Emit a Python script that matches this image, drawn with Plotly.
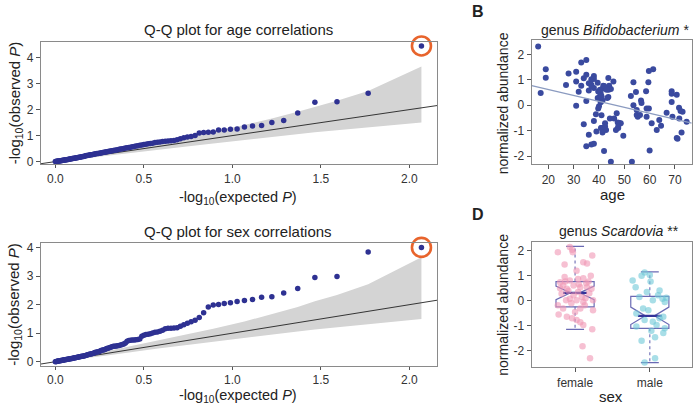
import numpy as np
import plotly.graph_objects as go

# ---------------- data ----------------
# Q-Q plots: observed -log10(P), sorted from the strongest association downwards (117 tests)
obs_age = [4.45, 2.63, 2.30, 2.28, 1.87, 1.58, 1.50, 1.39, 1.37, 1.33,
           1.25, 1.24, 1.22, 1.22, 1.14, 1.13, 1.12, 1.10, 1.00, 0.97,
           0.95, 0.92, 0.88, 0.84, 0.81, 0.80, 0.79, 0.78, 0.77, 0.75,
           0.74, 0.73, 0.71, 0.70, 0.69, 0.67, 0.66, 0.64, 0.63, 0.61,
           0.60, 0.58, 0.57, 0.55, 0.54, 0.53, 0.52, 0.50, 0.49, 0.48,
           0.47, 0.46, 0.45, 0.44, 0.43, 0.42, 0.41, 0.40, 0.39, 0.38,
           0.37, 0.36, 0.35, 0.34, 0.33, 0.32, 0.31, 0.31, 0.30, 0.29,
           0.28, 0.27, 0.265, 0.26, 0.25, 0.24, 0.235, 0.23, 0.22, 0.21,
           0.20, 0.195, 0.19, 0.18, 0.17, 0.165, 0.16, 0.15, 0.145, 0.14,
           0.13, 0.125, 0.12, 0.115, 0.11, 0.10, 0.095, 0.09, 0.085, 0.08,
           0.075, 0.07, 0.065, 0.06, 0.055, 0.05, 0.045, 0.04, 0.035, 0.03,
           0.027, 0.022, 0.018, 0.013, 0.009, 0.005, 0.002]
obs_sex = [4.01, 3.85, 2.99, 2.95, 2.57, 2.41, 2.28, 2.26, 2.18, 2.15,
           2.11, 2.07, 2.04, 2.01, 1.99, 1.92, 1.72, 1.55, 1.45, 1.40,
           1.35, 1.30, 1.24, 1.19, 1.18, 1.17, 1.17, 1.16, 1.10, 1.07,
           1.04, 1.03, 1.01, 0.98, 0.96, 0.95, 0.93, 0.89, 0.80, 0.78,
           0.77, 0.76, 0.76, 0.75, 0.74, 0.72, 0.66, 0.62, 0.60, 0.59,
           0.57, 0.56, 0.55, 0.54, 0.54, 0.52, 0.51, 0.49, 0.47, 0.46,
           0.44, 0.42, 0.41, 0.40, 0.38, 0.36, 0.35, 0.34, 0.33, 0.32,
           0.30, 0.29, 0.28, 0.27, 0.26, 0.25, 0.24, 0.23, 0.22, 0.21,
           0.20, 0.195, 0.19, 0.18, 0.175, 0.17, 0.16, 0.155, 0.15, 0.14,
           0.135, 0.13, 0.12, 0.115, 0.11, 0.105, 0.10, 0.095, 0.09, 0.085,
           0.08, 0.075, 0.07, 0.065, 0.06, 0.055, 0.05, 0.045, 0.04, 0.035,
           0.03, 0.025, 0.02, 0.015, 0.01, 0.005, 0.002]

# 95% confidence band
band_x = [2.068, 1.767, 1.591, 1.466, 1.369, 1.223, 1.068, 0.892, 0.767, 0.591,
          0.466, 0.369, 0.291, 0.224, 0.166, 0.114, 0.068, 0.027, 0.0]
band_lo = [1.50, 1.32, 1.21, 1.13, 1.06, 0.95, 0.84, 0.70, 0.60, 0.475,
           0.37, 0.287, 0.22, 0.164, 0.115, 0.073, 0.037, 0.009, 0.0]
band_hi = [3.66, 2.72, 2.34, 2.12, 1.92, 1.66, 1.41, 1.16, 0.99, 0.75,
           0.59, 0.47, 0.375, 0.294, 0.223, 0.161, 0.10, 0.05, 0.014]

# Panel B: Bifidobacterium vs age
age = [16, 17, 19, 19, 27, 28, 31, 31, 31, 32, 33, 35, 33, 34, 35, 35, 34, 36, 36, 37,
       38, 38, 37, 38, 35, 36, 37, 38, 38, 39.5, 39.5, 39.7, 40, 40.4, 40.7, 41.4, 41.4, 41.7,
       41, 39, 41, 42, 42.4, 42, 43.7, 43.8, 43.7, 44, 42.8, 44.3, 44.7, 46, 45.7, 46.7, 47,
       47.6, 48, 48.6, 49.6, 44.7, 52.6, 53, 53.6, 53.6, 54.6, 54.9, 54.9, 55.3, 56.2, 56.6,
       56.8, 58.6, 58.8, 58.8, 59.5, 59.7, 59.7, 60, 61.4, 60.8, 62.8, 63.8, 64.5, 66.7,
       68.7, 68.7, 68.7, 69, 70.7, 70.7, 71, 71.6, 71.7, 72.2, 72.6, 73, 74.6,
       39.7, 40.4, 41, 38.8, 42, 43, 43.3, 47.4, 47.6, 40.8, 42.4, 41.4, 37.1, 40.7]
bifido = [2.31, 0.48, 1.42, 1.08, 0.80, 1.25, 1.32, 0.93, -0.02, 0.53, 1.68, 1.78, 0.77, 1.06,
          1.20, 0.17, -0.75, 0.86, 0.58, 1.02, 1.15, 1.03, 0.81, 0.68, -1.61, -1.16, -1.55,
          -1.52, -0.62, 0.88, 0.28, -0.13, -0.04, 0.35, 0.45, 0.65, 0.19, 0.77, -0.39, -1.03,
          -0.90, -0.90, -0.71, -1.80, 1.07, 0.61, 0.32, 0.77, -0.97, -0.52, -2.22, -0.52, 0.93,
          -0.97, -0.32, -0.90, -0.70, -0.71, -1.20, 0.64, 0.36, -2.22, 0.90, 0.00, 0.52, -0.19,
          -0.38, -0.45, -0.38, 0.19, 0.09, 0.55, -0.13, -0.45, 0.90, 1.35, -0.13, -1.78, 1.42,
          -0.71, -0.97, -0.58, -0.81, -0.30, 0.55, 0.45, 0.13, -0.45, 0.41, -1.29, -1.32, -0.10,
          -0.52, -0.23, -1.07, -0.26, -0.65,
          0.54, 0.61, 0.35, -0.36, 0.76, 0.61, 0.28, -0.68, -0.84, -0.90, -0.84, -1.07, 0.74, 0.12]
fit_intercept = 1.084
fit_slope = -0.0234

# Panel D: Scardovia by sex (jittered positions; 1 = female, 2 = male)
sex_labels = ["female", "male"]
fem_pos = [0.77, 0.93, 0.96, 0.97, 1.23, 0.86, 1.11, 1.16, 1.02, 0.80, 0.87, 0.93, 1.04, 1.11,
           1.18, 0.98, 0.89, 1.07, 1.16, 1.22, 0.82, 0.98, 1.09, 0.88, 1.11, 1.24, 0.77, 1.07,
           1.24, 0.78, 0.89, 0.96, 1.02, 1.07, 1.11, 1.23, 1.10, 1.20, 0.84, 0.93, 1.02, 1.13,
           1.04, 0.84, 1.19, 0.91, 1.05, 1.14, 0.80, 1.00, 1.15, 0.95, 1.21, 0.86]
fem_val = [1.95, 2.16, 2.05, 1.95, 1.82, 1.46, 1.55, 1.50, 1.20, 0.74, 0.77, 0.81, 0.87, 0.90,
           0.77, 0.61, 0.48, 0.54, 0.54, 0.48, 0.28, 0.22, 0.15, 0.02, -0.05, 0.02, -0.18, -0.31,
           -0.38, -0.55, -0.64, -0.70, -0.77, -0.86, -0.97, -1.14, -1.82, -2.30, -0.31, 0.08,
           0.02, -0.18, 0.35, 0.61, 0.30, 0.40, 0.66, 0.10, 0.50, -0.45, 0.70, -0.10, 1.00, 0.95]
male_pos = [1.77, 1.81, 1.89, 1.93, 2.00, 2.01, 2.13, 1.96, 2.11, 2.04, 2.17, 2.20, 1.91, 1.98,
            1.82, 2.18, 1.93, 2.04, 2.09, 2.20, 2.18, 2.07, 1.82, 1.89, 2.07, 1.93, 2.13, 2.22,
            1.86, 2.02]
male_val = [0.81, 0.54, 1.00, 1.13, 1.03, 0.77, 0.41, 0.35, 0.22, 0.02, 0.08, -0.05, -0.31,
            -0.38, -0.51, -0.64, -0.77, -0.84, -0.97, -1.10, -1.29, -1.46, -1.03, -1.60, -2.30,
            -2.47, -0.70, 0.12, 0.15, -1.20]
# box statistics: q1, median, q3, lower whisker, upper whisker, notch half-span
box_q1 = [-0.24, -1.10]
box_med = [0.32, -0.60]
box_q3 = [0.77, 0.18]
box_lo = [-1.14, -2.47]
box_hi = [2.18, 1.16]
box_notch = [0.27, 0.35]

# ---------------- figure ----------------
W, H = 698, 410
FONT = "Liberation Sans, Arial, Helvetica, sans-serif"
QQ_COL = "#2e3192"
BAND_COL = "#d4d4d4"
ORANGE = "#e8642c"
BOXLINE = "#6a6ab4"

n = len(obs_age)
expected = -np.log10(np.arange(1, n + 1) / n)


def px_x(p):
    return p / W


def px_y(p):
    return 1 - p / H


fig = go.Figure()

qq_sets = [(obs_age, "x", "y"), (obs_sex, "x2", "y2")]
for obs, xa, ya in qq_sets:
    fig.add_trace(go.Scatter(
        x=band_x + band_x[::-1], y=band_hi + band_lo[::-1], fill="toself",
        fillcolor=BAND_COL, line=dict(width=0), mode="lines", hoverinfo="skip",
        xaxis=xa, yaxis=ya, showlegend=False))
    fig.add_trace(go.Scatter(
        x=[-0.1, 2.2], y=[-0.1, 2.2], mode="lines",
        line=dict(color="#222222", width=0.9), xaxis=xa, yaxis=ya, showlegend=False))
    fig.add_trace(go.Scatter(
        x=expected, y=obs, mode="markers",
        marker=dict(color=QQ_COL, size=5.5, line=dict(width=0)),
        xaxis=xa, yaxis=ya, showlegend=False))
    fig.add_trace(go.Scatter(
        x=[expected[0]], y=[obs[0]], mode="markers", cliponaxis=False,
        marker=dict(symbol="circle-open", size=19, color=ORANGE, line=dict(width=2.6, color=ORANGE)),
        xaxis=xa, yaxis=ya, showlegend=False))

# Panel B
fig.add_trace(go.Scatter(
    x=age, y=bifido, mode="markers",
    marker=dict(color="#3a4a9f", size=6, line=dict(width=0)),
    xaxis="x3", yaxis="y3", showlegend=False))
fx = np.array([13.45, 76.6])
fig.add_trace(go.Scatter(
    x=fx, y=fit_intercept + fit_slope * fx, mode="lines",
    line=dict(color="#8b9bc0", width=1.3), xaxis="x3", yaxis="y3", showlegend=False))

# Panel D boxes
for k in range(2):
    pos = k + 1
    fig.add_trace(go.Box(
        x=[pos], q1=[box_q1[k]], median=[box_med[k]], q3=[box_q3[k]],
        lowerfence=[box_q1[k]], upperfence=[box_q3[k]], notched=True,
        notchspan=[box_notch[k]], notchwidth=0.38, width=0.51,
        fillcolor="rgba(255,255,255,0)", line=dict(color=BOXLINE, width=1.2),
        boxpoints=False, hoverinfo="skip", xaxis="x4", yaxis="y4", showlegend=False))
    # dashed whiskers
    fig.add_trace(go.Scatter(
        x=[pos, pos], y=[box_q3[k], box_hi[k]], mode="lines",
        line=dict(color=BOXLINE, width=1.1, dash="dot"), xaxis="x4", yaxis="y4", showlegend=False))
    fig.add_trace(go.Scatter(
        x=[pos, pos], y=[box_q1[k], box_lo[k]], mode="lines",
        line=dict(color=BOXLINE, width=1.1, dash="dot"), xaxis="x4", yaxis="y4", showlegend=False))
    # caps
    for v in (box_hi[k], box_lo[k]):
        fig.add_trace(go.Scatter(
            x=[pos - 0.12, pos + 0.12], y=[v, v], mode="lines",
            line=dict(color=BOXLINE, width=1.2), xaxis="x4", yaxis="y4", showlegend=False))
    # thick median
    fig.add_trace(go.Scatter(
        x=[pos - 0.16, pos + 0.16], y=[box_med[k], box_med[k]], mode="lines",
        line=dict(color="#33339a", width=2.4), xaxis="x4", yaxis="y4", showlegend=False))

fig.add_trace(go.Scatter(
    x=fem_pos, y=fem_val, mode="markers",
    marker=dict(color="rgba(240,150,180,0.6)", size=6.5, line=dict(width=0)),
    xaxis="x4", yaxis="y4", showlegend=False))
fig.add_trace(go.Scatter(
    x=male_pos, y=male_val, mode="markers",
    marker=dict(color="rgba(110,200,215,0.6)", size=6.5, line=dict(width=0)),
    xaxis="x4", yaxis="y4", showlegend=False))

axis_common = dict(showgrid=False, zeroline=False, showline=True, mirror=True,
                   linecolor="#8a8a8a", linewidth=1.2, ticks="outside", ticklen=4,
                   tickcolor="#555555", tickfont=dict(size=12, color="#333333", family=FONT))

qq_x = dict(axis_common, range=[-0.081, 2.156], tickvals=[0, 0.5, 1.0, 1.5, 2.0],
            ticktext=["0.0", "0.5", "1.0", "1.5", "2.0"], ticklen=3)

fig.update_layout(
    width=W, height=H, margin=dict(l=0, r=0, t=0, b=0),
    paper_bgcolor="white", plot_bgcolor="white", font=dict(family=FONT, color="#222222"),
    xaxis=dict(qq_x, domain=[px_x(41), px_x(437)], anchor="y"),
    yaxis=dict(axis_common, domain=[px_y(165), px_y(41)], range=[-0.10, 4.59],
               tickvals=[0, 1, 2, 3, 4], anchor="x"),
    xaxis2=dict(qq_x, domain=[px_x(41), px_x(437)], anchor="y2"),
    yaxis2=dict(axis_common, domain=[px_y(370), px_y(245)], range=[-0.14, 4.17],
                tickvals=[0, 1, 2, 3, 4], anchor="x2"),
    xaxis3=dict(axis_common, domain=[px_x(531.7), px_x(691.7)], range=[13.45, 76.6],
                tickvals=[20, 30, 40, 50, 60, 70], anchor="y3"),
    yaxis3=dict(axis_common, domain=[px_y(165), px_y(38.3)], range=[-2.32, 2.58],
                tickvals=[-2, -1, 0, 1, 2], ticktext=["-2", "-1", "0", "1", "2"], anchor="x3"),
    xaxis4=dict(axis_common, domain=[px_x(531.7), px_x(691.7)], range=[0.42, 2.56],
                tickvals=[1, 2], ticktext=sex_labels, anchor="y4"),
    yaxis4=dict(axis_common, domain=[px_y(371.7), px_y(244.3)], range=[-2.66, 2.35],
                tickvals=[-2, -1, 0, 1, 2], ticktext=["-2", "-1", "0", "1", "2"], anchor="x4"),
)


def ann(text, x, y, size=15, angle=0, bold=False):
    if bold:
        text = "<b>" + text + "</b>"
    fig.add_annotation(text=text, x=px_x(x), y=px_y(y), xref="paper", yref="paper",
                       showarrow=False, textangle=angle, xanchor="center", yanchor="middle",
                       font=dict(size=size, family=FONT, color="#222222"))


ann("Q-Q plot for age correlations", 238, 28)
ann("Q-Q plot for sex correlations", 238, 233)
ann("-log<sub>10</sub>(expected <i>P</i>)", 238, 199, size=14.5)
ann("-log<sub>10</sub>(expected <i>P</i>)", 238, 401, size=14.5)
ann("-log<sub>10</sub>(observed <i>P</i>)", 15, 103, angle=-90)
ann("-log<sub>10</sub>(observed <i>P</i>)", 15, 308, angle=-90)
ann("genus <i>Bifidobacterium</i> *", 615, 28, size=14)
ann("genus <i>Scardovia</i> **", 619, 233, size=14)
ann("normalized abundance", 503, 103, size=14, angle=-90)
ann("normalized abundance", 503, 308, size=14, angle=-90)
ann("age", 612, 196, size=15)
ann("sex", 611, 401, size=15)
ann("B", 478, 10, size=16, bold=True)
ann("D", 478, 216, size=16, bold=True)

fig.write_html("out.html")
